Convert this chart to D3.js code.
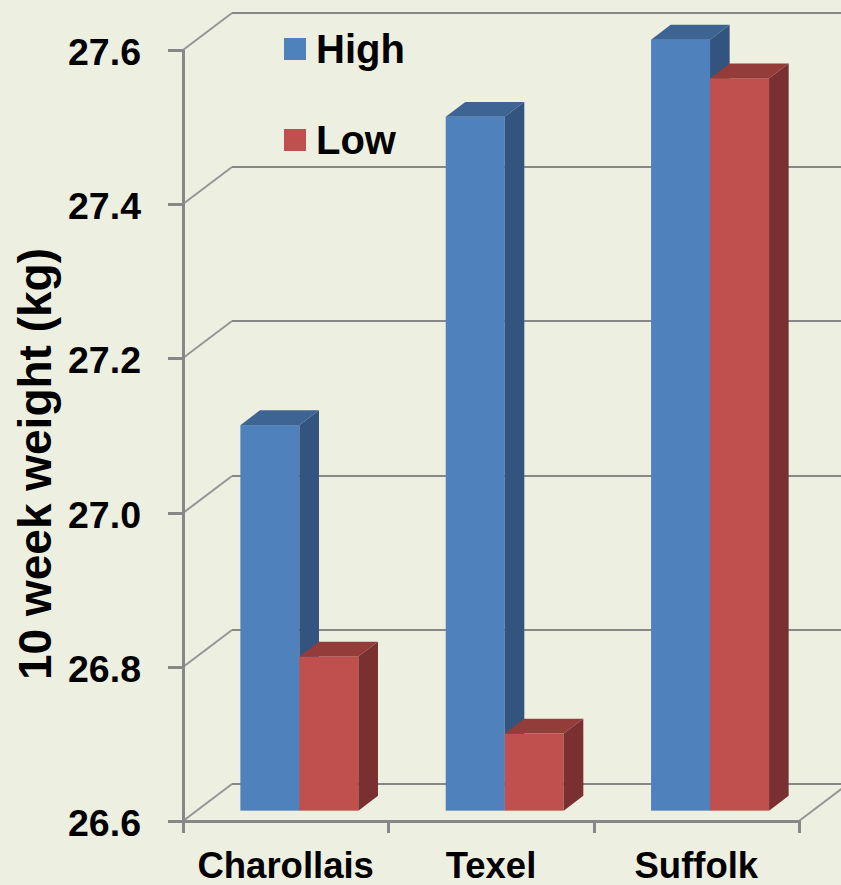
<!DOCTYPE html>
<html>
<head>
<meta charset="utf-8">
<script src="https://cdn.jsdelivr.net/npm/d3@7"></script>
<style>
  html, body { margin: 0; padding: 0; background: #EDF0E1; }
  svg { display: block; }
  text { font-family: "Liberation Sans", Arial, sans-serif; font-weight: bold; fill: #000; }
</style>
</head>
<body>
<script>
// Breeds and mean 10-week weights (kg) for the two groups
const categories = ["Charollais", "Texel", "Suffolk"];
const seriesNames = ["High", "Low"];
const highValues = [27.1, 27.5, 27.6];
const lowValues = [26.8, 26.7, 27.55];
const yTicks = [26.6, 26.8, 27.0, 27.2, 27.4, 27.6];
const yTitle = "10 week weight (kg)";

const W = 841, H = 885;
const frontColor = { High: "#4F81BD", Low: "#C0504D" };
const topColor = { High: "#3D6492", Low: "#943C3A" };
const sideColor = { High: "#33547F", Low: "#7A3030" };

// 3-D frame: front plane, plus an oblique offset to the back wall
const left = 183, right = 799, floorY = 821, topY = 50;
const depthX = 49, depthY = 37;
const barFront = 0.28, barBack = 0.68;   // bar depth as a fraction of the floor

const svg = d3.select("body").append("svg").attr("width", W).attr("height", H);

const y = d3.scaleLinear().domain([26.6, 27.6]).range([floorY, topY]);
const x = d3.scaleBand().domain(categories).range([left, right]).paddingInner(0).paddingOuter(0);
const xs = d3.scaleBand().domain(seriesNames).range([0, x.bandwidth()]).paddingInner(0).paddingOuter(0.74);

const grid = svg.append("g").attr("fill", "none").attr("stroke", "#878787").attr("stroke-width", 2);

// back wall gridlines and their oblique returns to the front axis
yTicks.forEach(v => {
  const yf = Math.round(y(v)), yb = yf - depthY;
  grid.append("line").attr("x1", left + depthX).attr("x2", W + 5)
    .attr("y1", yb).attr("y2", yb);
  if (v !== 26.6) {
    grid.append("line").attr("x1", left).attr("y1", yf)
      .attr("x2", left + depthX).attr("y2", yb).attr("stroke", "#959595");
  }
});

// floor edges
grid.append("line").attr("x1", left).attr("y1", floorY)
  .attr("x2", left + depthX).attr("y2", floorY - depthY).attr("stroke", "#959595");
grid.append("line").attr("x1", right).attr("y1", floorY)
  .attr("x2", right + depthX).attr("y2", floorY - depthY).attr("stroke", "#959595");

// bars
const rows = [];
categories.forEach((c, i) => {
  rows.push({ c, s: "High", v: highValues[i] });
  rows.push({ c, s: "Low", v: lowValues[i] });
});

const ox = barFront * depthX, oy = barFront * depthY;
const bdx = (barBack - barFront) * depthX, bdy = (barBack - barFront) * depthY;

const bars = svg.append("g").selectAll("g").data(rows).join("g");
bars.each(function (d) {
  const g = d3.select(this);
  const x0 = x(d.c) + xs(d.s) + ox;
  const x1 = x0 + xs.bandwidth();
  const yt = y(d.v) - oy;
  const yb = y(26.6) - oy;
  // front face
  g.append("rect").attr("x", x0).attr("y", yt).attr("width", x1 - x0).attr("height", yb - yt)
    .attr("fill", frontColor[d.s]);
  // top face
  g.append("path").attr("fill", topColor[d.s])
    .attr("d", `M${x0},${yt}L${x0 + bdx},${yt - bdy}L${x1 + bdx},${yt - bdy}L${x1},${yt}Z`);
  // right side face
  g.append("path").attr("fill", sideColor[d.s])
    .attr("d", `M${x1},${yt}L${x1 + bdx},${yt - bdy}L${x1 + bdx},${yb - bdy}L${x1},${yb}Z`);
});

// value axis
const axis = svg.append("g").attr("stroke", "#878787").attr("stroke-width", 3);
axis.append("line").attr("x1", left + 0.5).attr("x2", left + 0.5).attr("y1", topY).attr("y2", floorY + 1.5);
yTicks.forEach(v => {
  const yf = Math.round(y(v)) + 0.5;
  axis.append("line").attr("x1", left - 15).attr("x2", left).attr("y1", yf).attr("y2", yf);
});
svg.append("g").selectAll("text").data(yTicks).join("text")
  .attr("x", 141).attr("y", v => y(v) + 15)
  .attr("text-anchor", "end").attr("font-size", 37.5)
  .text(d3.format(".1f"));

// category axis
axis.append("line").attr("x1", left).attr("x2", right + 1.5).attr("y1", floorY + 0.5).attr("y2", floorY + 0.5);
const catEdges = categories.map(c => x(c)).concat([right]);
catEdges.forEach(cx => {
  const px = Math.round(cx) + 0.5;
  axis.append("line").attr("x1", px).attr("x2", px).attr("y1", floorY).attr("y2", floorY + 12);
});
svg.append("g").selectAll("text").data(categories).join("text")
  .attr("x", c => x(c) + x.bandwidth() / 2).attr("y", 878)
  .attr("text-anchor", "middle").attr("font-size", 36.5)
  .text(c => c);

// axis title
svg.append("text").attr("transform", "translate(51,464) rotate(-90)")
  .attr("text-anchor", "middle").attr("font-size", 46)
  .text(yTitle);

// legend
const legend = svg.append("g").selectAll("g").data(seriesNames).join("g")
  .attr("transform", (s, i) => `translate(284,${38 + i * 91})`);
legend.append("rect").attr("width", 22).attr("height", 22).attr("fill", s => frontColor[s]);
legend.append("text").attr("x", 32).attr("y", 25).attr("font-size", 40).text(s => s);
</script>
</body>
</html>
